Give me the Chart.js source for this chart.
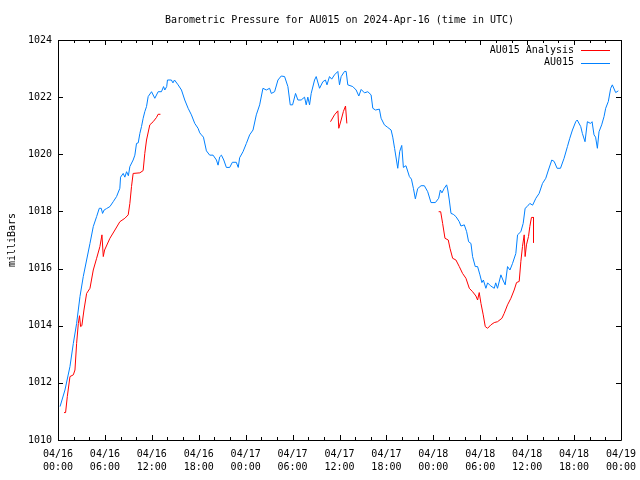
<!DOCTYPE html>
<html>
<head>
<meta charset="utf-8">
<script src="https://cdn.jsdelivr.net/npm/chart.js@4.4.1/dist/chart.umd.min.js"></script>
<style>
  html, body { margin: 0; padding: 0; background: #fff; }
</style>
</head>
<body>
<canvas id="pressureChart" width="640" height="480"></canvas>
<script>
const chartTitle = "Barometric Pressure for AU015 on 2024-Apr-16 (time in UTC)";
const seriesNames = ["AU015 Analysis", "AU015"];
const seriesColors = ["#ff0000", "#0080ff"];

// x values are hours since 04/16 00:00 UTC
const xTickLabels = [
  ["04/16", "00:00"], ["04/16", "06:00"], ["04/16", "12:00"], ["04/16", "18:00"],
  ["04/17", "00:00"], ["04/17", "06:00"], ["04/17", "12:00"], ["04/17", "18:00"],
  ["04/18", "00:00"], ["04/18", "06:00"], ["04/18", "12:00"], ["04/18", "18:00"],
  ["04/19", "00:00"],
];
const yTicks = [1010, 1012, 1014, 1016, 1018, 1020, 1022, 1024];

const stationHours = [
  0.26, 0.89, 1.53, 1.96, 2.38, 2.81, 3.23, 3.66, 4.09, 4.51, 4.94, 5.28, 5.53, 5.7, 5.9,
  6.21, 6.64, 7.06, 7.49, 7.91, 8.0, 8.34, 8.55, 8.77, 9.0, 9.19, 9.61, 9.83, 10.04, 10.26,
  10.47, 10.68, 10.89, 11.1, 11.32, 11.53, 11.96, 12.38, 12.81, 13.23, 13.5, 13.66, 13.9, 14.0,
  14.5, 14.7, 14.9, 15.36, 15.79, 16.21, 16.64, 17.06, 17.49, 17.91, 18.13, 18.34, 18.6, 18.98,
  19.4, 19.83, 20.26, 20.47, 20.68, 20.9, 21.2, 21.53, 21.96, 22.3, 22.8, 23.05, 23.23, 23.66,
  24.09, 24.51, 24.94, 25.36, 25.79, 26.21, 26.64, 27.06, 27.28, 27.7, 28.13, 28.55, 28.98,
  29.4, 29.7, 30.0, 30.38, 30.68, 31.1, 31.53, 31.74, 31.95, 32.17, 32.38, 32.81, 33.02, 33.45,
  33.87, 34.2, 34.4, 34.72, 35.0, 35.36, 35.79, 36.0, 36.21, 36.64, 36.85, 37.06, 37.7, 38.13,
  38.47, 38.77, 39.19, 39.62, 40.04, 40.26, 40.6, 41.1, 41.32, 41.74, 42.17, 42.6, 42.81, 43.05,
  43.45, 43.7, 43.96, 44.17, 44.5, 44.94, 45.2, 45.45, 45.7, 46.0, 46.43, 46.85, 47.28, 47.7,
  48.26, 48.68, 48.9, 49.1, 49.4, 49.7, 49.85, 50.04, 50.26, 50.55, 50.89, 51.32, 51.53, 51.96,
  52.26, 52.51, 52.81, 53.02, 53.36, 53.66, 53.96, 54.21, 54.4, 54.72, 54.94, 55.3, 55.79,
  55.98, 56.21, 56.64, 56.9, 57.19, 57.49, 57.8, 58.13, 58.55, 58.77, 59.19, 59.49, 59.74, 60.0,
  60.34, 60.7, 61.11, 61.53, 61.96, 62.38, 62.72, 63.15, 63.45, 63.83, 64.26, 64.72, 65.15,
  65.45, 65.79, 66.21, 66.4, 66.85, 67.06, 67.4, 67.7, 68.1, 68.3, 68.55, 68.75, 68.98, 69.19,
  69.53, 69.83, 70.04, 70.38, 70.68, 70.89, 71.32, 71.66,
];
const stationValues = [
  1011.17, 1011.75, 1012.57, 1013.38, 1014.08, 1015.02, 1015.72, 1016.3, 1016.88, 1017.47,
  1017.82, 1018.11, 1018.11, 1017.93, 1018.05, 1018.1, 1018.17, 1018.34, 1018.52, 1018.81,
  1019.2, 1019.33, 1019.2, 1019.39, 1019.25, 1019.57, 1019.8, 1019.97, 1020.38, 1020.4,
  1020.73, 1020.97, 1021.26, 1021.49, 1021.67, 1022.02, 1022.19, 1021.96, 1022.19, 1022.19,
  1022.37, 1022.25, 1022.37, 1022.6, 1022.6, 1022.5, 1022.6, 1022.43, 1022.25, 1021.9,
  1021.61, 1021.38, 1021.08, 1020.91, 1020.75, 1020.68, 1020.6, 1020.12, 1019.97, 1019.97,
  1019.8, 1019.62, 1019.91, 1019.97, 1019.8, 1019.54, 1019.54, 1019.72, 1019.72, 1019.54,
  1019.88, 1020.09, 1020.38, 1020.68, 1020.85, 1021.38, 1021.73, 1022.31, 1022.25, 1022.31,
  1022.13, 1022.19, 1022.6, 1022.74, 1022.72, 1022.37, 1021.73, 1021.73, 1022.13, 1021.9,
  1021.9, 1022.0, 1021.73, 1022.0, 1021.73, 1022.13, 1022.6, 1022.72, 1022.31, 1022.54,
  1022.6, 1022.43, 1022.72, 1022.63, 1022.78, 1022.9, 1022.43, 1022.72, 1022.9, 1022.9,
  1022.43, 1022.37, 1022.25, 1022.04, 1022.27, 1022.15, 1022.19, 1022.08, 1021.61, 1021.55,
  1021.58, 1021.26, 1021.03, 1020.94, 1020.85, 1020.6, 1020.2, 1019.51, 1020.1, 1020.31,
  1019.54, 1019.6, 1019.22, 1019.13, 1018.81, 1018.44, 1018.8, 1018.9, 1018.9, 1018.69,
  1018.31, 1018.31, 1018.46, 1018.75, 1018.65, 1018.81, 1018.93, 1018.75, 1018.4, 1017.93,
  1017.9, 1017.82, 1017.64, 1017.49, 1017.53, 1017.29, 1016.94, 1016.88, 1016.42, 1016.07,
  1016.07, 1015.78, 1015.51, 1015.6, 1015.31, 1015.5, 1015.4, 1015.31, 1015.5, 1015.31,
  1015.78, 1015.6, 1015.43, 1016.07, 1015.95, 1016.18, 1016.53, 1017.18, 1017.29, 1017.58,
  1018.11, 1018.17, 1018.28, 1018.22, 1018.46, 1018.63, 1018.98, 1019.16, 1019.45, 1019.8,
  1019.75, 1019.51, 1019.51, 1019.86, 1020.27, 1020.56, 1020.85, 1021.14, 1021.2, 1020.97,
  1020.73, 1020.44, 1021.14, 1021.08, 1021.14, 1020.68, 1020.6, 1020.21, 1020.79, 1021.03,
  1021.32, 1021.61, 1021.85, 1022.31, 1022.43, 1022.16, 1022.22,
];

// null marks a gap between analysis runs
const analysisHours = [
  0.77, 0.97, 1.19, 1.53, 1.96, 2.17, 2.38, 2.6, 2.75, 2.89, 3.05, 3.32, 3.66, 4.09, 4.51,
  4.94, 5.36, 5.62, 5.79, 5.96, 6.64, 7.28, 7.91, 8.55, 8.98, 9.19, 9.4, 9.61, 10.47, 10.89,
  11.1, 11.32, 11.74, 12.17, 12.6, 12.8, 13.1, 20.0,
  34.85, 35.36, 35.79, 35.91, 36.21, 36.5, 36.77, 36.94, 42.0,
  48.68, 48.94, 49.19, 49.49, 49.91, 50.13, 50.47, 50.89, 51.32, 51.74, 52.17, 52.6, 53.02,
  53.45, 53.66, 53.87, 54.09, 54.38, 54.64, 54.94, 55.36, 55.79, 56.21, 56.77, 57.06, 57.49,
  57.92, 58.34, 58.64, 58.98, 59.19, 59.4, 59.62, 59.74, 59.91, 60.17, 60.34, 60.55, 60.81,
  60.81,
];
const analysisValues = [
  1010.96, 1010.96, 1011.52, 1012.22, 1012.28, 1012.45, 1013.38, 1014.08, 1014.35, 1013.97,
  1014.0, 1014.55, 1015.13, 1015.31, 1015.95, 1016.36, 1016.77, 1017.18, 1016.42, 1016.65,
  1017.06, 1017.35, 1017.64, 1017.76, 1017.88, 1018.28, 1018.87, 1019.33, 1019.35, 1019.43,
  1020.03, 1020.5, 1021.03, 1021.14, 1021.29, 1021.4, 1021.4, null,
  1021.14, 1021.38, 1021.52, 1020.91, 1021.2, 1021.5, 1021.69, 1021.08, null,
  1017.99, 1017.99, 1017.58, 1017.06, 1017.0, 1016.71, 1016.36, 1016.3, 1016.07, 1015.83,
  1015.66, 1015.31, 1015.19, 1015.04, 1014.9, 1015.16, 1014.78, 1014.38, 1013.97, 1013.91,
  1014.03, 1014.11, 1014.14, 1014.26, 1014.43, 1014.73, 1014.96, 1015.25, 1015.51, 1015.55,
  1016.24, 1016.77, 1017.18, 1016.42, 1016.83, 1017.12, 1017.47, 1017.79, 1017.79, 1016.91,
];

const toPoints = (xs, ys) => xs.map((x, i) => ({ x: x, y: ys[i] }));
const FONT = "DejaVu Sans Mono";

// gnuplot-like frame: box, inward ticks on all sides, legend with sample lines
const framePlugin = {
  id: "frame",
  afterDraw(chart) {
    const { ctx, chartArea: a, scales } = chart;
    ctx.save();
    ctx.strokeStyle = "#000";
    ctx.lineWidth = 1;
    ctx.beginPath();
    ctx.rect(a.left + 0.5, a.top + 0.5, a.right - a.left, a.bottom - a.top);
    for (let h = 0; h <= 72; h += 2) {
      const px = Math.round(scales.x.getPixelForValue(h)) + 0.5;
      const len = h % 6 === 0 ? 5 : 3;
      ctx.moveTo(px, a.bottom); ctx.lineTo(px, a.bottom - len);
      ctx.moveTo(px, a.top); ctx.lineTo(px, a.top + len);
    }
    yTicks.forEach(v => {
      const py = Math.round(scales.y.getPixelForValue(v)) + 0.5;
      ctx.moveTo(a.left, py); ctx.lineTo(a.left + 5, py);
      ctx.moveTo(a.right, py); ctx.lineTo(a.right - 5, py);
    });
    ctx.stroke();

    ctx.font = "10px '" + FONT + "'";
    ctx.textAlign = "right";
    ctx.textBaseline = "middle";
    seriesNames.forEach((name, i) => {
      const ly = 50 + i * 12.5;
      ctx.fillStyle = "#000";
      ctx.fillText(name, a.right - 47, ly);
      ctx.strokeStyle = seriesColors[i];
      ctx.beginPath();
      ctx.moveTo(a.right - 40, Math.round(ly) + 0.5);
      ctx.lineTo(a.right - 11, Math.round(ly) + 0.5);
      ctx.stroke();
    });
    ctx.restore();
  },
};

new Chart(document.getElementById("pressureChart"), {
  type: "line",
  data: {
    datasets: [
      {
        label: seriesNames[0],
        data: toPoints(analysisHours, analysisValues),
        borderColor: seriesColors[0],
        borderWidth: 1,
        pointRadius: 0,
        spanGaps: false,
      },
      {
        label: seriesNames[1],
        data: toPoints(stationHours, stationValues),
        borderColor: seriesColors[1],
        borderWidth: 1,
        pointRadius: 0,
      },
    ],
  },
  options: {
    responsive: false,
    animation: false,
    layout: { padding: { left: 0, right: 19, top: 0, bottom: 0 } },
    plugins: {
      legend: { display: false },
      tooltip: { enabled: false },
      title: {
        display: true,
        fullSize: false,
        text: chartTitle,
        color: "#000",
        font: { family: FONT, size: 10, weight: "normal", lineHeight: 1.2 },
        padding: { top: 14, bottom: 14 },
      },
    },
    scales: {
      x: {
        type: "linear",
        min: 0,
        max: 72,
        grid: { display: false, drawTicks: false },
        border: { display: false },
        afterFit: s => { s.height = 40; s.paddingLeft = 0; s.paddingRight = 0; },
        ticks: {
          stepSize: 6,
          autoSkip: false,
          maxRotation: 0,
          padding: 8,
          color: "#000",
          font: { family: FONT, size: 10, lineHeight: 1.3 },
          callback: v => xTickLabels[Math.round(v / 6)],
        },
      },
      y: {
        min: 1010,
        max: 1024,
        grid: { display: false, drawTicks: false },
        border: { display: false },
        afterFit: s => { s.width = 58; s.paddingTop = 0; s.paddingBottom = 0; },
        ticks: {
          stepSize: 2,
          padding: 6,
          color: "#000",
          font: { family: FONT, size: 10 },
          callback: v => String(v),
        },
        title: {
          display: true,
          text: "milliBars",
          color: "#000",
          font: { family: FONT, size: 10 },
          padding: { top: 6, bottom: 0 },
        },
      },
    },
  },
  plugins: [framePlugin],
});
</script>
</body>
</html>
